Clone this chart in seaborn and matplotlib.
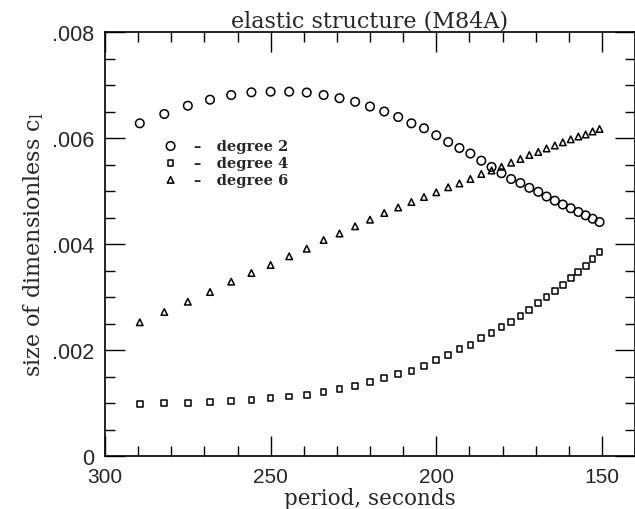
import numpy as np
import pandas as pd
import matplotlib
matplotlib.use("Agg")
import matplotlib.pyplot as plt
from matplotlib.ticker import MultipleLocator, FuncFormatter
import seaborn as sns

# ---- data ----
period = [289.5, 282.1, 275.0, 268.3, 261.9, 255.8, 250.0, 244.4, 239.1, 234.0,
          229.2, 224.5, 220.0, 215.7, 211.5, 207.5, 203.7, 200.0, 196.4, 193.0,
          189.7, 186.4, 183.3, 180.3, 177.4, 174.6, 171.9, 169.2, 166.7, 164.2,
          161.8, 159.4, 157.1, 154.9, 152.8, 150.7]

degree2 = [0.006277, 0.006453, 0.006609, 0.006723, 0.006811, 0.006862, 0.006874, 0.006874,
           0.006858, 0.006811, 0.006751, 0.006683, 0.006594, 0.006500, 0.006396, 0.006277,
           0.006183, 0.006051, 0.005925, 0.005811, 0.005707, 0.005572, 0.005453, 0.005336,
           0.005226, 0.005151, 0.005060, 0.004985, 0.004896, 0.004817, 0.004745, 0.004675,
           0.004604, 0.004541, 0.004477, 0.004415]

degree4 = [0.000981, 0.000994, 0.001000, 0.001013, 0.001043, 0.001062, 0.001089, 0.001123,
           0.001151, 0.001202, 0.001264, 0.001326, 0.001391, 0.001466, 0.001547, 0.001609,
           0.001704, 0.001811, 0.001906, 0.002019, 0.002094, 0.002221, 0.002321, 0.002428,
           0.002534, 0.002647, 0.002755, 0.002881, 0.002994, 0.003119, 0.003226, 0.003353,
           0.003466, 0.003591, 0.003717, 0.003849]

degree6 = [0.002523, 0.002717, 0.002911, 0.003094, 0.003289, 0.003453, 0.003604, 0.003768,
           0.003911, 0.004075, 0.004198, 0.004334, 0.004459, 0.004585, 0.004689, 0.004792,
           0.004887, 0.004975, 0.005070, 0.005142, 0.005226, 0.005321, 0.005387, 0.005457,
           0.005534, 0.005604, 0.005679, 0.005736, 0.005802, 0.005858, 0.005919, 0.005975,
           0.006028, 0.006066, 0.006123, 0.006170]

series_labels = ["degree 2", "degree 4", "degree 6"]
x_ticks = [300, 250, 200, 150]
y_ticks = [0, 0.002, 0.004, 0.006, 0.008]
title = "elastic structure (M84A)"
xlabel = "period, seconds"
ylabel = "size of dimensionless c$_\\mathrm{l}$"

# ---- style ----
sns.set_style("ticks")
plt.rcParams["font.family"] = ["DejaVu Serif", "DejaVu Sans"]
plt.rcParams["mathtext.fontset"] = "dejavuserif"

fig = plt.figure(figsize=(6.35, 5.1), dpi=100)
ax = fig.add_axes([105 / 635, 53 / 510, 530 / 635, 424 / 510])

df = pd.DataFrame({
    "period": period * 3,
    "value": degree2 + degree4 + degree6,
    "series": [series_labels[0]] * len(period) + [series_labels[1]] * len(period)
              + [series_labels[2]] * len(period),
})

markers = {"degree 2": ("o", 38), "degree 4": ("s", 17), "degree 6": ("^", 22)}
for lab in series_labels:
    sub = df[df["series"] == lab]
    m, s = markers[lab]
    sns.scatterplot(data=sub, x="period", y="value", ax=ax, marker=m, s=s,
                    facecolor="none", edgecolor="black", linewidth=1.1,
                    label="\u2013   " + lab, legend=False)

ax.set_xlim(300, 140)
ax.set_ylim(0, 0.008)
ax.set_xticks(x_ticks)
ax.set_yticks(y_ticks)
ax.xaxis.set_minor_locator(MultipleLocator(10))
ax.yaxis.set_minor_locator(MultipleLocator(0.0005))
ax.yaxis.set_major_formatter(FuncFormatter(lambda v, p: "0" if abs(v) < 1e-12 else f"{v:.3f}".lstrip("0")))
ax.xaxis.set_major_formatter(FuncFormatter(lambda v, p: f"{v:.0f}"))

ax.tick_params(which="both", direction="in", top=True, right=True, width=1.0, color="black")
ax.tick_params(which="major", length=14.5)
ax.tick_params(which="minor", length=7.2)
ax.tick_params(axis="y", which="major", pad=8, labelsize=15.5)
ax.tick_params(axis="x", which="major", pad=8, labelsize=15)
for lbl in ax.get_xticklabels() + ax.get_yticklabels():
    lbl.set_fontfamily("Liberation Sans")
for sp in ax.spines.values():
    sp.set_linewidth(1.2)
    sp.set_color("black")

ax.set_title(title, fontsize=16, pad=4)
ax.set_xlabel(xlabel, fontsize=15.5, labelpad=1)
ax.set_ylabel(ylabel, fontsize=16, labelpad=4)

leg = ax.legend(loc="upper left", bbox_to_anchor=(0.11, 0.748), frameon=False,
                prop={"family": "DejaVu Serif", "size": 10.5, "weight": "bold"},
                handletextpad=1.1, labelspacing=0.2, handlelength=1.0,
                borderaxespad=0, borderpad=0)

fig.savefig("out.png", dpi=100)
